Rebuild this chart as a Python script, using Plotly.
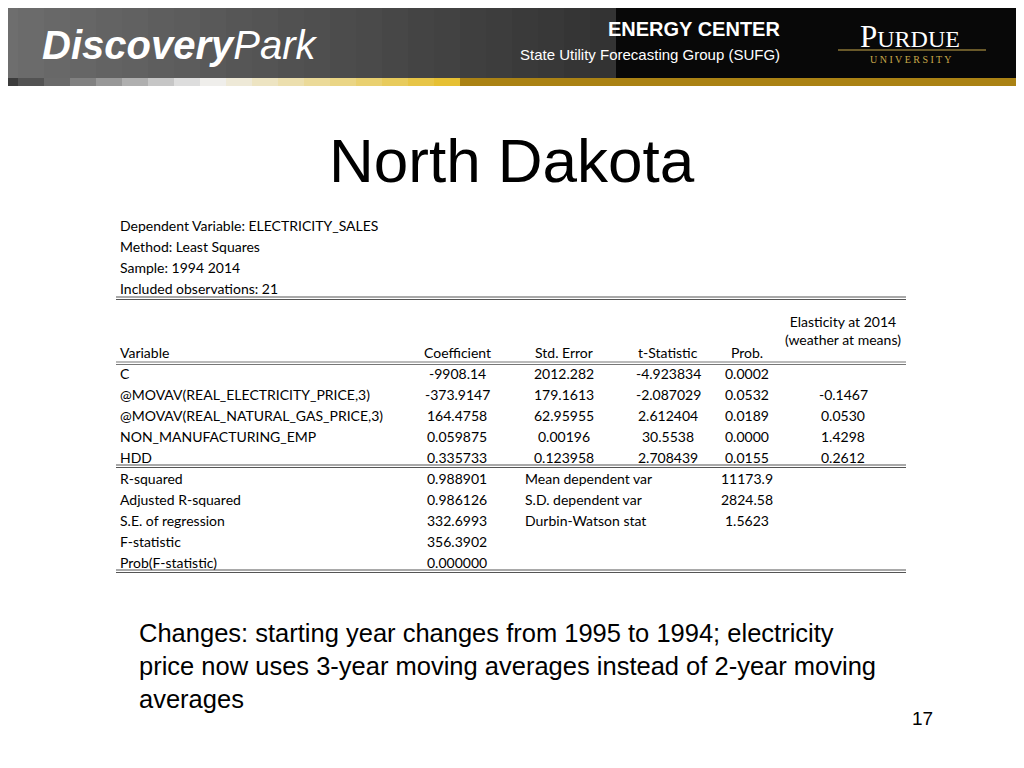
import plotly.graph_objects as go

title = "North Dakota"
info_lines = ["Dependent Variable: ELECTRICITY_SALES", "Method: Least Squares",
              "Sample: 1994 2014", "Included observations: 21"]
col_headers = ["Variable", "Coefficient", "Std. Error", "t-Statistic", "Prob.", "Elasticity at 2014<br>(weather at means)"]
variables = ["C", "@MOVAV(REAL_ELECTRICITY_PRICE,3)", "@MOVAV(REAL_NATURAL_GAS_PRICE,3)",
             "NON_MANUFACTURING_EMP", "HDD"]
coefficients = ["-9908.14", "-373.9147", "164.4758", "0.059875", "0.335733"]
std_errors = ["2012.282", "179.1613", "62.95955", "0.00196", "0.123958"]
t_stats = ["-4.923834", "-2.087029", "2.612404", "30.5538", "2.708439"]
probs = ["0.0002", "0.0532", "0.0189", "0.0000", "0.0155"]
elasticities = ["", "-0.1467", "0.0530", "1.4298", "0.2612"]
stat_labels = ["R-squared", "Adjusted R-squared", "S.E. of regression", "F-statistic", "Prob(F-statistic)"]
stat_values = ["0.988901", "0.986126", "332.6993", "356.3902", "0.000000"]
stat2_labels = ["Mean dependent var", "S.D. dependent var", "Durbin-Watson stat"]
stat2_values = ["11173.9", "2824.58", "1.5623"]
footer = "Changes: starting year changes from 1995 to 1994; electricity<br>price now uses 3-year moving averages instead of 2-year moving<br>averages"
page_no = "17"

TF = "Lato, Carlito, sans-serif"
TS = 14
fig = go.Figure()
ann = []
shapes = []

def t(x, y, s, size=TS, anchor="left", font=TF, color="black", va="middle", **kw):
    ann.append(dict(x=x, y=y, text=s, xref="x", yref="y", showarrow=False, xanchor=anchor,
                    yanchor=va, font=dict(family=font, size=size, color=color), **kw))

# header band
n = 40
for i in range(n):
    x0 = i * 1040 / n - 8; x1 = (i + 1) * 1040 / n - 8
    f = i / (n - 1)
    g = int(110 - 100 * f) if f < 0.6 else 8
    shapes.append(dict(type="rect", x0=x0, x1=x1 + 1, y0=-10, y1=78, fillcolor=f"rgb({g},{g},{g})", line_width=0, layer="below"))
    if f < 0.2:
        c = (int(60 + 180 * f / 0.2),) * 3
    elif f < 0.45:
        k = (f - 0.2) / 0.25
        c = (int(240 - 10 * k), int(240 - 50 * k), int(240 - 200 * k))
    else:
        c = (170, 130, 20)
    shapes.append(dict(type="rect", x0=x0, x1=x1 + 1, y0=78, y1=86, fillcolor=f"rgb{c}", line_width=0, layer="below"))

t(40, 45, "<b><i>Discovery</i></b><i>Park</i>", size=40, font="Liberation Sans Narrow, Arial Narrow, sans-serif", color="white")
t(782, 29, "<b>ENERGY CENTER</b>", size=20, anchor="right", font="Liberation Sans, Arial", color="white")
t(782, 54, "State Utility Forecasting Group (SUFG)", size=15, anchor="right", font="Liberation Sans Narrow, Liberation Sans", color="white")
t(910, 36, "P<span style='font-size:24px'>URDUE</span>", size=31, anchor="center", font="Liberation Serif, serif", color="white")
shapes.append(dict(type="line", x0=838, x1=986, y0=50, y1=50, line=dict(color="#c8a84a", width=1)))
t(910, 59, "U N I V E R S I T Y", size=10, anchor="center", font="Liberation Serif, serif", color="#c8a84a")

t(512, 160, title, size=62, anchor="center", font="Liberation Sans, Arial")

for i, s in enumerate(info_lines):
    t(118, 225 + 21.3 * i, s)

def dline(y, gap=2.5, color="#555"):
    for yy in (y, y + gap):
        shapes.append(dict(type="line", x0=116, x1=906, y0=yy, y1=yy, line=dict(color=color, width=1.2)))

dline(297)
dline(362, color="#777")
dline(465)
dline(570)

cx = [118, 457, 564, 668, 747, 843]
for j, h in enumerate(col_headers):
    if j == 0:
        t(cx[0], 352, h)
    elif j == 5:
        t(cx[5], 330, h, anchor="center")
    else:
        t(cx[j], 352, h, anchor="center")

for i in range(len(variables)):
    y = 373 + 21 * i
    t(cx[0], y, variables[i])
    for j, col in enumerate([coefficients, std_errors, t_stats, probs, elasticities], start=1):
        if col[i]:
            t(cx[j], y, col[i], anchor="center")

for i in range(len(stat_labels)):
    y = 478 + 21 * i
    t(cx[0], y, stat_labels[i])
    t(cx[1], y, stat_values[i], anchor="center")
for i in range(len(stat2_labels)):
    y = 478 + 21 * i
    t(523, y, stat2_labels[i])
    t(cx[4], y, stat2_values[i], anchor="center")

t(137, 666, footer, size=25.5, font="Liberation Sans, Arial", align="left")
t(935, 718, page_no, size=19, anchor="right", font="Liberation Sans, Arial")

# compensate the 8px page margin of the browser body
fig.update_layout(width=1024, height=768, margin=dict(l=0, r=0, t=0, b=0),
                  paper_bgcolor="white", plot_bgcolor="white", showlegend=False,
                  xaxis=dict(range=[8, 1032], visible=False, fixedrange=True),
                  yaxis=dict(range=[776, 8], visible=False, fixedrange=True),
                  annotations=ann, shapes=shapes)
fig.write_html("out.html")
